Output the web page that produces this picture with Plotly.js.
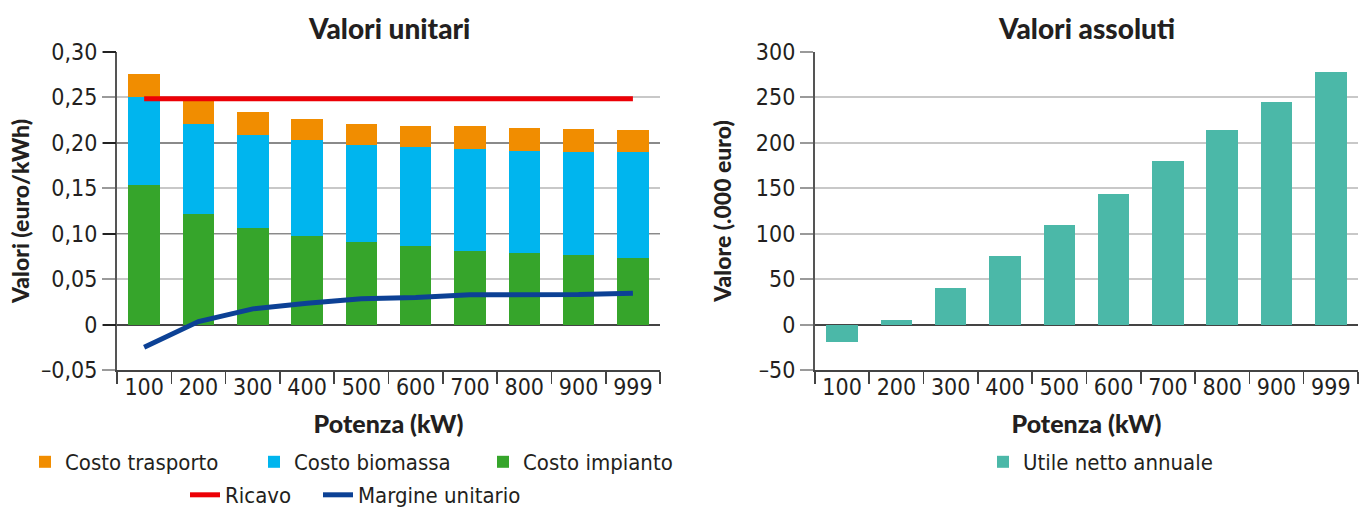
<!DOCTYPE html>
<html><head><meta charset="utf-8">
<script src="https://cdn.plot.ly/plotly-3.0.1.min.js"></script>
<style>html,body{margin:0;padding:0;background:#fff}#chart{width:1360px;height:511px}</style>
</head><body><div id="chart"></div>
<script>
const categories = ['100','200','300','400','500','600','700','800','900','999'];
const costoImpianto = [0.1531,0.1215,0.1068,0.0973,0.0914,0.0870,0.0815,0.0793,0.0771,0.0738];
const costoBiomassa = [0.0969,0.0991,0.1014,0.1057,0.1057,0.1079,0.1112,0.1112,0.1123,0.1156];
const costoTrasporto = [0.0253,0.0254,0.0253,0.0228,0.0232,0.0232,0.0254,0.0254,0.0254,0.0243];
const ricavo = [0.2485,0.2485,0.2485,0.2485,0.2485,0.2485,0.2485,0.2485,0.2485,0.2485];
const margineUnitario = [-0.025,0.0033,0.0173,0.0235,0.0283,0.0297,0.0327,0.0327,0.033,0.0345];
const utileNetto = [-19.5,5.5,40,75,110,144,180,214,245,278];
const leftTickVals = [-0.05,0,0.05,0.10,0.15,0.20,0.25,0.30];
const leftTickText = ['\u20130,05','0','0,05','0,10','0,15','0,20','0,25','0,30'];
const rightTickVals = [-50,0,50,100,150,200,250,300];
const rightTickText = ['\u201350','0','50','100','150','200','250','300'];

const NARROW = 'DejaVu Sans Condensed, Liberation Sans Narrow, Roboto, sans-serif';
const BOLD = 'Lato, Noto Sans, sans-serif';
const TXT = '#231f20';

const traces = [
  {type:'bar', name:'Costo impianto', x:categories, y:costoImpianto, xaxis:'x', yaxis:'y', marker:{color:'#36a52b'}, legend:'legend', legendrank:3},
  {type:'bar', name:'Costo biomassa', x:categories, y:costoBiomassa, xaxis:'x', yaxis:'y', marker:{color:'#00b5ee'}, legend:'legend', legendrank:2},
  {type:'bar', name:'Costo trasporto', x:categories, y:costoTrasporto, xaxis:'x', yaxis:'y', marker:{color:'#f18d00'}, legend:'legend', legendrank:1},
  {type:'scatter', mode:'lines', name:'Ricavo', x:categories, y:ricavo, xaxis:'x', yaxis:'y3', line:{color:'#ec0006', width:5}, legend:'legend2'},
  {type:'scatter', mode:'lines', name:'Margine unitario', x:categories, y:margineUnitario, xaxis:'x', yaxis:'y3', line:{color:'#0c4195', width:5}, legend:'legend4'},
  {type:'bar', name:'Utile netto annuale', x:categories, y:utileNetto, xaxis:'x2', yaxis:'y2', marker:{color:'#4bb8a8'}, legend:'legend3'}
];

function xAxis(domain, anchor) {
  return {domain:domain, anchor:anchor, type:'category', tickson:'boundaries', ticks:'outside', ticklen:12,
    tickcolor:'#444', tickwidth:1.5, showline:true, linecolor:'#444', linewidth:2, showgrid:false,
    ticklabelstandoff:-5, tickfont:{family:NARROW, size:23, color:TXT},
    title:{text:'Potenza (kW)', font:{family:BOLD, size:25, weight:900, color:TXT}, standoff:17}};
}
function yAxis(anchor, range, tv, tt, title, so) {
  return {anchor:anchor, range:range, tickvals:tv, ticktext:tt, ticks:'outside', ticklen:13, tickcolor:'#9a9a9a', tickwidth:2,
    showgrid:true, gridcolor:'#c8c8c8', gridwidth:2, zeroline:true, zerolinecolor:'#444', zerolinewidth:2,
    showline:true, linecolor:'#555', linewidth:2, tickfont:{family:NARROW, size:23, color:TXT},
    title:{text:title, font:{family:BOLD, size:23, weight:900, color:TXT}, standoff:so}};
}
function yOver(over, anchor, range, dt) {
  return {overlaying:over, anchor:anchor, side:'left', range:range, dtick:dt, tick0:0, showticklabels:false,
    ticks:'outside', ticklen:13, tickcolor:'#222', tickwidth:2, showgrid:true, gridcolor:'#8a8a8a', gridwidth:1.5,
    zeroline:false, showline:false};
}
const legFont = {family:NARROW, size:22, color:TXT};
function leg(px, py, extra) {
  return Object.assign({orientation:'h', xref:'container', yref:'container', x:px/1360, y:1-py/511,
    xanchor:'left', yanchor:'middle', font:legFont, traceorder:'normal', bgcolor:'rgba(0,0,0,0)'}, extra || {});
}
const layout = {
  width:1360, height:511,
  margin:{l:117, r:2, t:52, b:141},
  paper_bgcolor:'#ffffff', plot_bgcolor:'rgba(0,0,0,0)',
  barmode:'stack', bargap:0.42,
  showlegend:true,
  xaxis:xAxis([0,0.4376],'y'),
  xaxis2:xAxis([0.5624,1],'y2'),
  yaxis:yAxis('x',[-0.05,0.30],leftTickVals,leftTickText,'Valori (euro/kWh)',5),
  yaxis2:yAxis('x2',[-50,300],rightTickVals,rightTickText,'Valore (.000 euro)',18),
  yaxis3:yOver('y','x',[-0.05,0.30],0.1),
  yaxis4:yOver('y2','x2',[-50,300],100),
  legend:leg(25, 462, {entrywidth:184}),
  legend2:leg(185, 495),
  legend4:leg(318, 495),
  legend3:leg(983, 462),
  annotations:[
    {text:'Valori unitari', xref:'x domain', x:0.5, yref:'paper', y:1, yanchor:'middle', yshift:24, showarrow:false,
      font:{family:BOLD, size:28, weight:900, color:TXT}},
    {text:'Valori assoluti', xref:'x2 domain', x:0.5, yref:'paper', y:1, yanchor:'middle', yshift:24, showarrow:false,
      font:{family:BOLD, size:28, weight:900, color:TXT}}
  ]
};
Plotly.newPlot('chart', traces, layout, {displayModeBar:false, staticPlot:true});
</script></body></html>
